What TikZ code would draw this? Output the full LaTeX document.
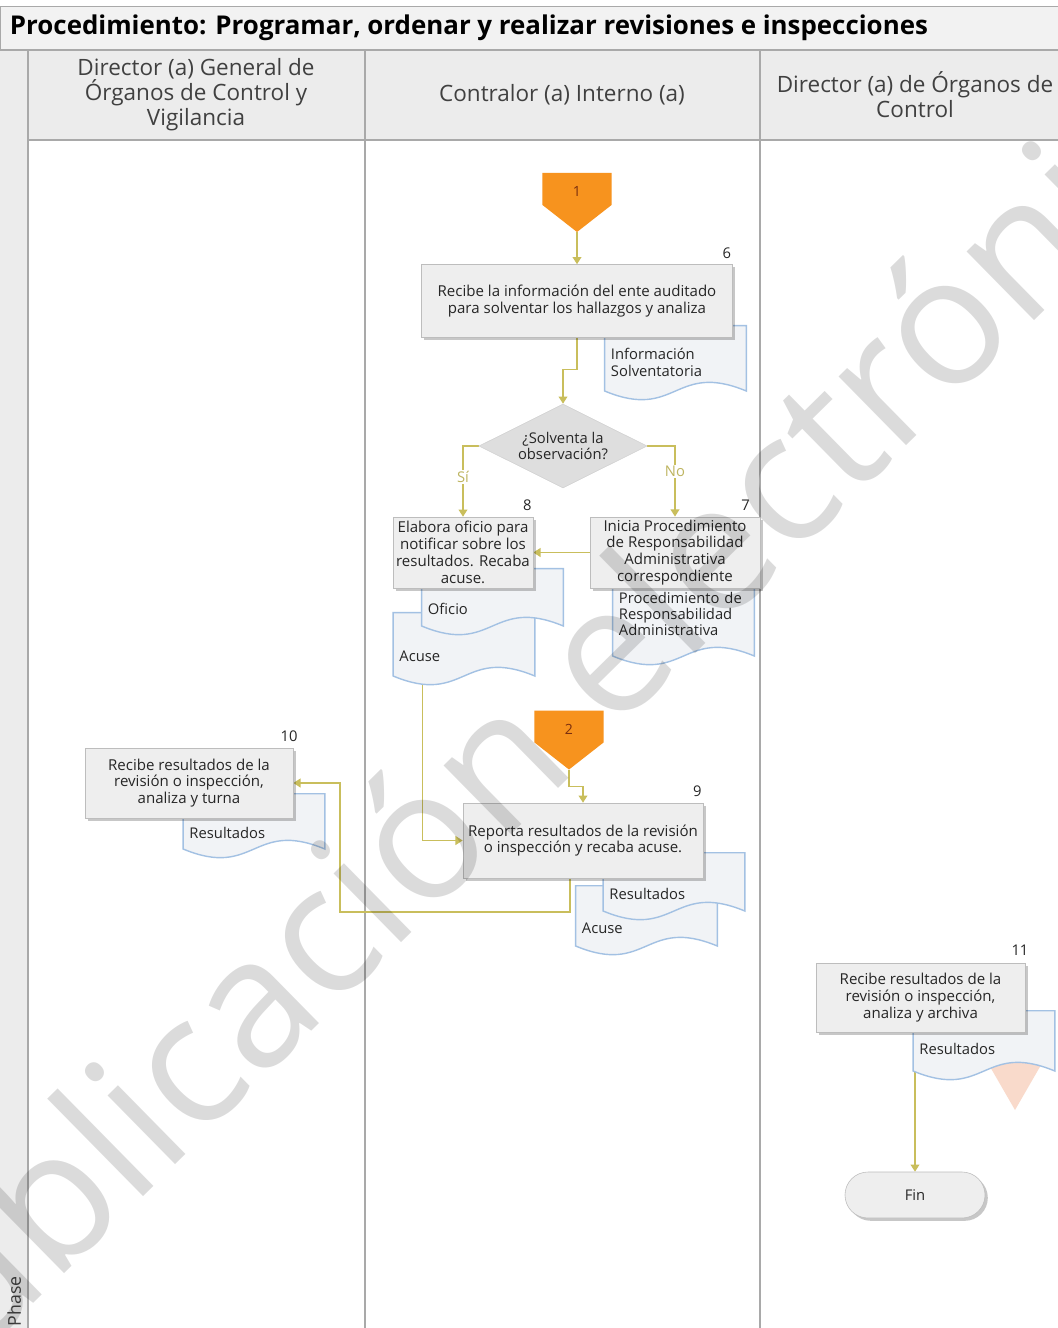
\documentclass[tikz,border=0pt]{standalone}
\usepackage{fontspec}
\setmainfont{Open Sans}
\usepackage{tikz}
\usetikzlibrary{shapes.geometric, arrows.meta, positioning, shadows, backgrounds}

\definecolor{bandfill}{HTML}{F2F2F2}
\definecolor{headfill}{HTML}{ECECEC}
\definecolor{laneline}{HTML}{A9A9A9}
\definecolor{boxfill}{HTML}{EEEEEE}
\definecolor{boxline}{HTML}{BDBDBD}
\definecolor{decfill}{HTML}{DEDEDE}
\definecolor{docfill}{HTML}{F1F3F6}
\definecolor{docline}{HTML}{A3C1E3}
\definecolor{flow}{HTML}{C9BE5C}
\definecolor{offfill}{HTML}{F7931E}
\definecolor{offtext}{HTML}{7A2E0E}
\definecolor{archfill}{HTML}{F9DACB}
\definecolor{dtxt}{HTML}{262626}
\definecolor{htxt}{HTML}{404040}

\begin{document}
\begin{tikzpicture}[
    x=0.025cm, y=-0.025cm,
    box/.style={
      draw=boxline, fill=boxfill, align=center, inner sep=2pt,
      font=\fontsize{10.7}{12}\selectfont, text=dtxt,
      drop shadow={shadow xshift=0.07cm, shadow yshift=-0.07cm, fill=black, opacity=0.22}
    },
    docu/.style={
      align=left, text width=3.225cm, inner xsep=0.175cm, inner ysep=0pt,
      font=\fontsize{10.5}{11.6}\selectfont, text=dtxt,
      execute at begin node={\rule{0pt}{#1}},
      path picture={
        \filldraw[fill=docfill, draw=docline, line width=1pt]
          ([shift={(0.7,0.7)}]path picture bounding box.north west)
          -- ([shift={(-0.7,0.7)}]path picture bounding box.north east)
          -- ([shift={(-0.7,-9)}]path picture bounding box.south east)
          .. controls +(-72,-30) and +(72,30) ..
          ([shift={(0.7,-9)}]path picture bounding box.south west) -- cycle;
      }
    },
    docu/.default=0.66cm,
    off/.style={
      minimum width=1.725cm, minimum height=1.475cm, inner sep=0pt,
      text height=0.25cm, text depth=0.54cm,
      font=\fontsize{10}{11}\selectfont, text=offtext,
      path picture={
        \fill[offfill] (path picture bounding box.north west)
          -- (path picture bounding box.north east)
          -- ([yshift=0.675cm]path picture bounding box.south east)
          -- (path picture bounding box.south)
          -- ([yshift=0.675cm]path picture bounding box.south west) -- cycle;
      }
    },
    dec/.style={
      diamond, aspect=2, fill=decfill, draw=boxline!70, minimum width=4.2cm,
      minimum height=2.1cm, inner sep=0pt, align=center,
      font=\fontsize{10.5}{11.6}\selectfont, text=dtxt
    },
    term/.style={
      draw=boxline, fill=boxfill, rounded corners=0.575cm, minimum width=3.5cm,
      minimum height=1.15cm, font=\fontsize{10.5}{11}\selectfont, text=dtxt,
      drop shadow={shadow xshift=0.07cm, shadow yshift=-0.07cm, fill=black, opacity=0.22}
    },
    num/.style={anchor=south east, inner sep=1pt, yshift=0.1cm, font=\fontsize{10.5}{11}\selectfont, text=dtxt},
    fl/.style={draw=flow, line width=0.9pt, -{Triangle[length=0.18cm, width=0.22cm]}},
    lbl/.style={fill=white, inner sep=1pt, font=\fontsize{10.5}{11}\selectfont, text=flow!85!gray},
    lane/.style={draw=laneline, line width=1.4pt},
    lanehd/.style={align=center, text=htxt, font=\fontsize{16}{17.8}\selectfont},
    wm/.style={rotate=44.5, anchor=base, text=black, text opacity=0.14,
      font=\fontsize{128}{128}\selectfont}
  ]
    \useasboundingbox (0,0) rectangle (1058,1328);
    \clip (0,0) rectangle (1058,1328);

    % --- marco y carriles ---
    \begin{scope}[on background layer]
      \fill[white] (0,0) rectangle (1058,1328);
      \filldraw[fill=bandfill, draw=laneline] (0,6) rectangle (1064,50);
      \fill[headfill] (0,50) rectangle (1064,140);
      \fill[headfill] (0,50) rectangle (28,1332);
      \draw[lane] (0,50) -- (1064,50);
      \draw[lane] (28,140) -- (1064,140);
      \draw[lane] (28,50) -- (28,1332);
      \draw[lane] (365,50) -- (365,1332);
      \draw[lane] (760,50) -- (760,1332);
    \end{scope}
    \node[anchor=west, text=black, font=\fontsize{18.4}{20}\selectfont\bfseries] (ttl) at (5,28)
      {Procedimiento: Programar, ordenar y realizar revisiones e inspecciones};
    \node[lanehd] (h1) at (196,95) {Director (a) General de\\Órganos de Control y\\Vigilancia};
    \node[lanehd] (h2) at (562,95) {Contralor (a) Interno (a)};
    \node[lanehd] (h3) at (915,95) {Director (a) de Órganos de\\Control};
    \node[rotate=90, anchor=base west, text=htxt, font=\fontsize{12.6}{14}\selectfont] (ph) at (21,1331) {Phase};

    % --- Contralor (a) Interno (a) ---
    \node[off] (off1) at (577,202.5) {1};
    \node[docu=0pt, minimum height=1.875cm] (d6) at (675.5,362.5) {Información\\Solventatoria};
    \node[box, minimum width=7.775cm, minimum height=1.825cm, label={[num]north east:6}] (b6) at (577,301)
      {Recibe la información del ente auditado\\para solventar los hallazgos y analiza};
    \node[dec] (q1) at (563,446) {¿Solventa la\\observación?};
    \node[docu=0pt, minimum height=2cm, execute at end node={\rule[-0.55cm]{0pt}{0pt}}] (d7) at (683.5,625)
      {Procedimiento de\\Responsabilidad\\Administrativa};
    \node[box, minimum width=4.25cm, minimum height=1.775cm, label={[num, xshift=-0.22cm]north east:7}] (b7) at (675,552.5)
      {Inicia Procedimiento\\de Responsabilidad\\Administrativa\\correspondiente};
    \node[docu, minimum height=1.825cm] (d8b) at (464,648.5) {Acuse};
    \node[docu, minimum height=1.675cm] (d8a) at (492.5,601.5) {Oficio};
    \node[box, minimum width=3.5cm, minimum height=1.775cm, label={[num]north east:8}] (b8) at (463,552.5)
      {Elabora oficio para\\notificar sobre los\\resultados. Recaba\\acuse.};
    \node[off] (off2) at (569,740) {2};
    \node[docu, minimum height=1.75cm] (d9b) at (646.5,920) {Acuse};
    \node[docu, minimum height=1.7cm] (d9a) at (674,886) {Resultados};
    \node[box, minimum width=6cm, minimum height=1.875cm, label={[num]north east:9}] (b9) at (583,840.5)
      {Reporta resultados de la revisión\\o inspección y recaba acuse.};

    % --- Director (a) General ---
    \node[docu, minimum height=1.625cm] (d10) at (254,825.5) {Resultados};
    \node[box, minimum width=5.2cm, minimum height=1.75cm, label={[num, xshift=0.15cm]north east:10}] (b10) at (189,783)
      {Recibe resultados de la\\revisión o inspección,\\analiza y turna};

    % --- Director (a) de Órganos de Control ---
    \fill[archfill] (985,1058) -- (1045,1058) -- (1015,1110) -- cycle;
    \node[docu=0.5cm, minimum height=1.75cm] (d11) at (984,1045) {Resultados};
    \node[box, minimum width=5.225cm, minimum height=1.725cm, label={[num, xshift=0.12cm, yshift=0.05cm]north east:11}] (b11) at (920.5,997.5)
      {Recibe resultados de la\\revisión o inspección,\\analiza y archiva};
    \node[term] (fin) at (915,1195) {Fin};

    % --- flujos ---
    \coordinate (rt9) at (340,912);
    \begin{scope}[on background layer]
      \draw[fl] (off1.south) -- (b6.north);
      \draw[fl] (b6.south) -- ++(0,32) -| (q1.north);
      \draw[fl] (q1.west) -| node[lbl, pos=0.72] {Sí} (b8.north);
      \draw[fl] (q1.east) -| node[lbl, pos=0.68] {No} (b7.north);
      \draw[fl] (b7.west) -- (b8.east);
      \draw[fl] ([xshift=0.75cm]d8b.south west) |- (b9.west);
      \draw[fl] (off2.south) -- ++(0,17) -| (b9.north);
      \draw[fl] ([xshift=-0.325cm]b9.south) |- (rt9) |- (b10.east);
      \draw[fl] (fin.north |- b11.south) -- (fin.north);
    \end{scope}

    % --- marca de agua ---
    \node[wm] (wmk) at (582,765) {Publicación electrónica};
\end{tikzpicture}
\end{document}
